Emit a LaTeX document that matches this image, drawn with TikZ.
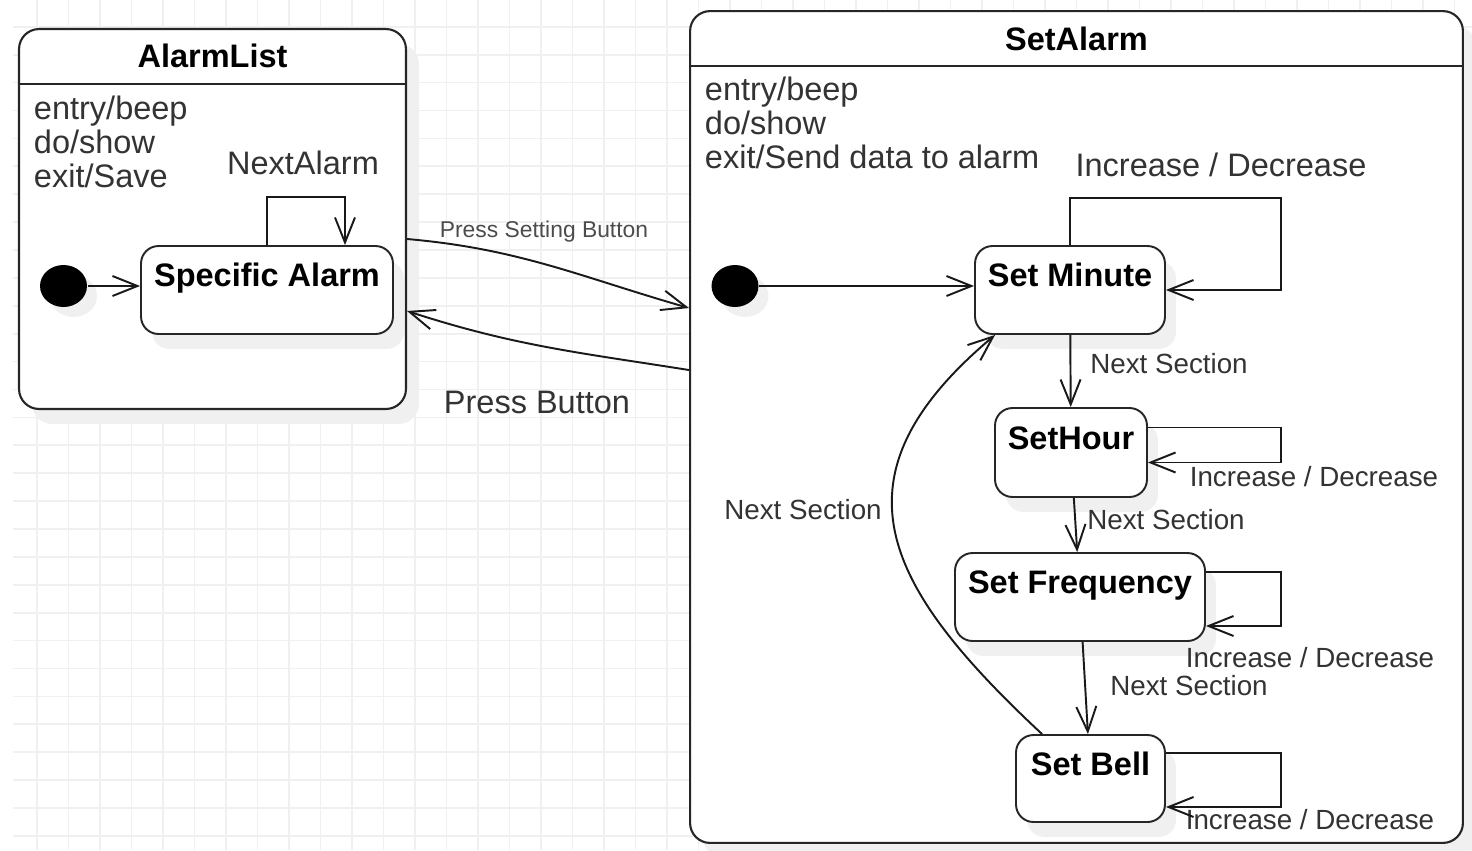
\documentclass[tikz,border=0pt]{standalone}
\usepackage{fontspec}
\setmainfont{Liberation Sans}
\usetikzlibrary{positioning,calc,arrows.meta,shapes.geometric,shadows}

\newcommand{\fsbig}{\fontsize{18.5}{19.3}\selectfont}
\newcommand{\fsmid}{\fontsize{15.8}{17}\selectfont}
\newcommand{\fssmall}{\fontsize{13}{14}\selectfont}

\begin{document}
\begin{tikzpicture}
      [x=0.02cm,y=0.02cm,
      line width=1.1pt,
      >={Straight Barb[length=5mm,width=4mm]},
      region/.style={draw=black!85,fill=white,rounded corners=0.4cm,line width=1.2pt,
        drop shadow={shadow xshift=0.26cm,shadow yshift=-0.3cm,fill=black!6,opacity=1}},
      stbox/.style={draw=black!85,fill=white,rounded corners=0.35cm,font=\fsbig\bfseries,
        text height=0.5cm,text depth=0.64cm,inner sep=0pt,
        drop shadow={shadow xshift=0.22cm,shadow yshift=-0.3cm,fill=black!6,opacity=1}},
      startdot/.style={ellipse,fill=black,minimum width=0.94cm,minimum height=0.84cm,inner sep=0pt,
        drop shadow={shadow xshift=0.2cm,shadow yshift=-0.2cm,fill=black!6,opacity=1}},
      trans/.style={->,draw=black!90},
      lbl/.style={text=black!80,inner sep=0pt},
      gridline/.style={draw=black!6,line width=1pt}]
     \useasboundingbox (0,0) rectangle (1472,-850);
     % background grid
     \foreach \gx in {0,...,45} \draw[gridline] (37+31.5*\gx,0) -- (37+31.5*\gx,-850);
     \foreach \gy in {0,...,29} \draw[gridline] (13,-26.8-27.9*\gy) -- (1472,-26.8-27.9*\gy);

     % AlarmList
     \node[region,minimum width=7.74cm,minimum height=7.6cm] (alarmlist) at (212.5,-219) {};
     \draw[line width=1.2pt,draw=black!85] ([yshift=-1.12cm]alarmlist.north west) -- ([yshift=-1.12cm]alarmlist.north east);
     \node[font=\fsbig\bfseries,inner sep=0pt] (alarmlist-title) at ([yshift=-0.56cm]alarmlist.north) {AlarmList};
     \node[lbl,font=\fsbig,align=left,anchor=north west] (alarmlist-acts) at (33,-95) {entry/beep\\do/show\\exit/Save};
     \node[startdot] (start1) at (63.5,-286) {};
     \node[stbox,minimum width=5.04cm,minimum height=1.76cm] (specific) at (267,-290) {Specific Alarm};
     \node[lbl,font=\fsbig] (nextalarm) at (303,-163) {NextAlarm};

     % SetAlarm
     \node[region,minimum width=15.46cm,minimum height=16.64cm] (setalarm) at (1076.5,-427) {};
     \draw[line width=1.2pt,draw=black!85] ([yshift=-1.12cm]setalarm.north west) -- ([yshift=-1.12cm]setalarm.north east);
     \node[font=\fsbig\bfseries,inner sep=0pt] (setalarm-title) at ([yshift=-0.58cm]setalarm.north) {SetAlarm};
     \node[lbl,font=\fsbig,align=left,anchor=north west] (setalarm-acts) at (704,-76) {entry/beep\\do/show\\exit/Send data to alarm};
     \node[startdot] (start2) at (735,-286) {};
     \node[stbox,minimum width=3.8cm,minimum height=1.76cm] (minute) at (1070,-290) {Set Minute};
     \node[stbox,minimum width=3.04cm,minimum height=1.78cm] (hour) at (1071,-452.5) {SetHour};
     \node[stbox,minimum width=5cm,minimum height=1.76cm] (freq) at (1080,-597) {Set Frequency};
     \node[stbox,minimum width=2.98cm,minimum height=1.74cm] (bell) at (1090.5,-778.5) {Set Bell};

     % transition labels
     \node[lbl,font=\fssmall,text=black!70] (pressset) at (544,-232) {Press Setting Button};
     \node[lbl,font=\fsbig] (pressbtn) at (537,-402) {Press Button};
     \node[lbl,font=\fsbig] (incdec-minute) at (1221,-165) {Increase / Decrease};
     \node[lbl,font=\fsmid] (next-minute) at (1169,-364) {Next Section};
     \node[lbl,font=\fsmid] (incdec-hour) at (1314,-477) {Increase / Decrease};
     \node[lbl,font=\fsmid] (next-hour) at (1166,-520) {Next Section};
     \node[lbl,font=\fsmid] (incdec-freq) at (1310,-658) {Increase / Decrease};
     \node[lbl,font=\fsmid] (next-freq) at (1189,-686) {Next Section};
     \node[lbl,font=\fsmid] (incdec-bell) at (1310,-820) {Increase / Decrease};
     \node[lbl,font=\fsmid] (next-bell) at (803,-510) {Next Section};

     % transitions
     \draw[trans] (start1.east) -- (start1.east -| specific.west);
     \draw[trans] (specific.north) -- ++(0,48) -| ([xshift=1.56cm]specific.north);
     \draw[trans] ([yshift=-0.4cm]alarmlist.east) to[out=-5,in=164] ([yshift=2.38cm]setalarm.west);
     \draw[trans] ([yshift=1.14cm]setalarm.west) to[out=171,in=-18] ([yshift=-1.84cm]alarmlist.east);
     \draw[trans] (start2.east) -- (start2.east -| minute.west);
     \draw[trans] (minute.north) -- ++(0,47) -| ([xshift=2.3cm]minute.east) -- (minute.east);
     \draw[trans] (minute) -- (hour);
     \draw[trans] ([yshift=0.5cm]hour.east) -- ++(133,0) |- ([yshift=-0.2cm]hour.east);
     \draw[trans] (hour) -- (freq);
     \draw[trans] ([yshift=0.5cm]freq.east) -- ++(75,0) |- ([yshift=-0.58cm]freq.east);
     \draw[trans] (freq) -- (bell);
     \draw[trans] ([yshift=0.51cm]bell.east) -- ++(115,0) |- ([yshift=-0.57cm]bell.east);
     \draw[trans] ([xshift=-0.97cm]bell.north) to[out=137,in=220,looseness=1.4] ([xshift=0.42cm]minute.south west);
    \end{tikzpicture}
\end{document}
